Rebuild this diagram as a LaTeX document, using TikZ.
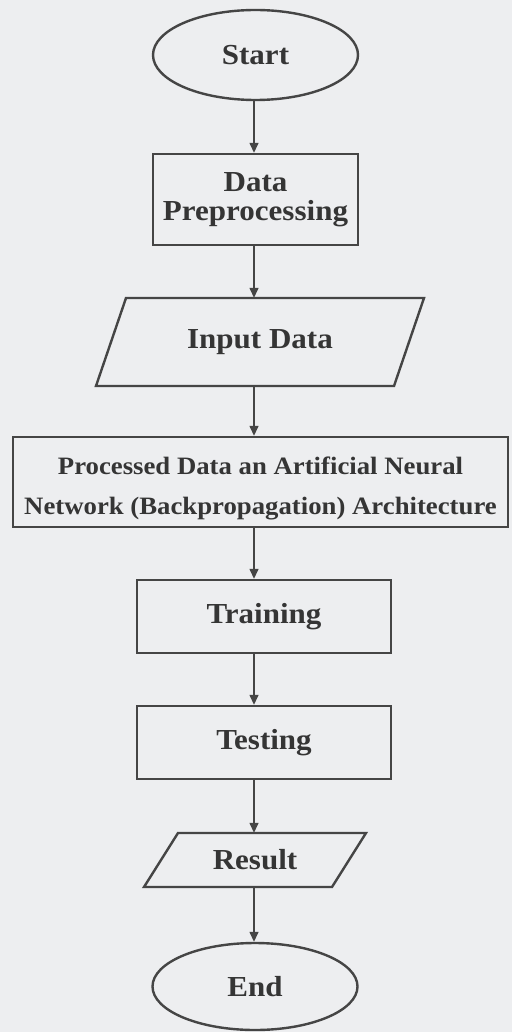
\documentclass[tikz,border=0pt]{standalone}
\usepackage{fontspec}
\setmainfont[FakeStretch=1.07]{Liberation Serif}
\usetikzlibrary{shapes.geometric,arrows.meta}
\definecolor{bg}{HTML}{EDEEF0}
\definecolor{ln}{HTML}{454545}
\definecolor{tx}{HTML}{353535}
\tikzset{
  lbl/.style={text=tx,font=\fontsize{29}{31}\selectfont\bfseries,inner sep=0pt},
  term/.style={lbl,ellipse,draw=ln,line width=2.4pt},
  proc/.style={lbl,rectangle,draw=ln,line width=2.4pt,align=center},
  io/.style={lbl,rectangle},
  para/.style={draw=ln,line width=2.4pt,line join=miter},
  arr/.style={draw=ln,line width=1.4pt,-{Triangle[width=9pt,length=10pt]}}
}
\begin{document}
\begin{tikzpicture}[x=1pt,y=-1pt]
\fill[bg] (0,0) rectangle (512,1032);
\useasboundingbox (0,0) rectangle (512,1032);
\coordinate (ax) at (254,0);
\node[term,minimum width=205pt,minimum height=90pt] (start) at (255.5,55) {Start};
\node[proc,minimum width=205pt,minimum height=91pt] (prep) at (255.5,199.5) {Data\\[-2pt]Preprocessing};
\node[io,minimum width=298pt,minimum height=88pt] (input) at (260,342) {Input Data};
\draw[para] (126,298) -- (424,298) -- (394,386) -- (96,386) -- cycle;
\node[proc,minimum width=495pt,minimum height=90pt,font=\fontsize{25}{40}\selectfont\bfseries] (ann) at (260.5,482) {\rule{0pt}{30pt}Processed Data an Artificial Neural\\Network (Backpropagation) Architecture};
\node[proc,minimum width=254pt,minimum height=73pt] (train) at (264,616.5) {Training};
\node[proc,minimum width=254pt,minimum height=73pt] (test) at (264,742.5) {Testing};
\node[io,minimum width=188pt,minimum height=54pt] (res) at (255,860) {Result};
\draw[para] (178,833) -- (366,833) -- (332,887) -- (144,887) -- cycle;
\node[term,minimum width=205pt,minimum height=87pt] (end) at (255,986.5) {End};
\draw[arr] (start.south -| ax) -- (prep.north -| ax);
\draw[arr] (prep.south -| ax) -- (input.north -| ax);
\draw[arr] (input.south -| ax) -- (ann.north -| ax);
\draw[arr] (ann.south -| ax) -- (train.north -| ax);
\draw[arr] (train.south -| ax) -- (test.north -| ax);
\draw[arr] (test.south -| ax) -- (res.north -| ax);
\draw[arr] (res.south -| ax) -- (end.north -| ax);
\end{tikzpicture}
\end{document}
